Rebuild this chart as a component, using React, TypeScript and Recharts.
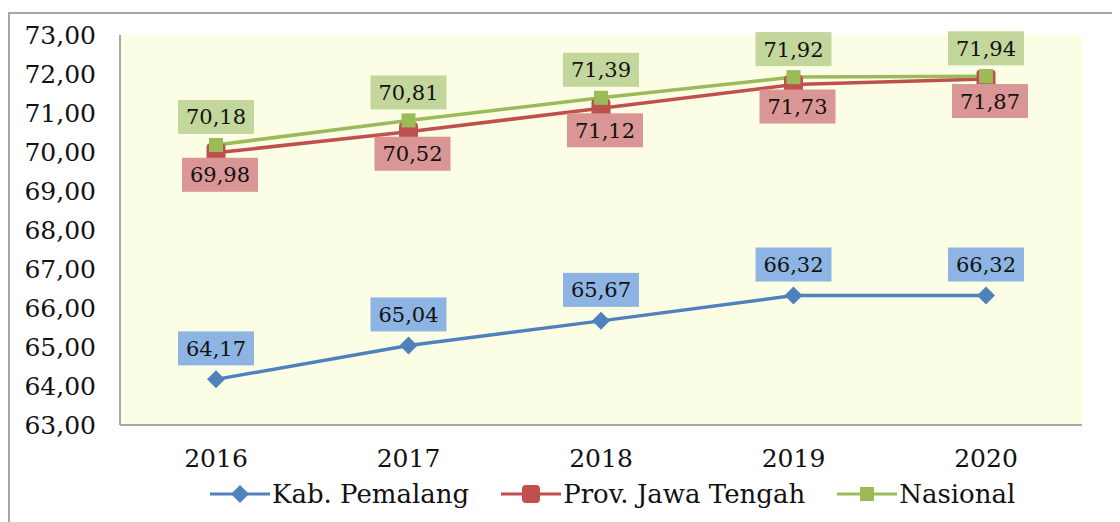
import React from "react";
import { LineChart, Line, XAxis, YAxis, CartesianGrid, LabelList } from "recharts";

const years = ["2016", "2017", "2018", "2019", "2020"];
const pemalang = [64.17, 65.04, 65.67, 66.32, 66.32];
const jateng = [69.98, 70.52, 71.12, 71.73, 71.87];
const nasional = [70.18, 70.81, 71.39, 71.92, 71.94];
const yTicks = [63, 64, 65, 66, 67, 68, 69, 70, 71, 72, 73];

const seriesNames = ["Kab. Pemalang", "Prov. Jawa Tengah", "Nasional"];
const lineColors = ["#4F81BD", "#C0504D", "#9BBB59"];
const labelFills = ["#8EB4E3", "#D99694", "#C3D69B"];

const data = years.map((y, i) => ({
  year: y,
  pemalang: pemalang[i],
  jateng: jateng[i],
  nasional: nasional[i],
}));

const FONT = "'DejaVu Serif', serif";
const fmt = (v: number) => v.toFixed(2).replace(".", ",");

const makeLabel = (fill: string, dy: number, dx: number) => (props: any) => {
  const { x, y, value } = props;
  const w = 76;
  const h = 34;
  const cx = x + dx;
  const cy = y + dy;
  return (
    <g>
      <rect x={cx - w / 2} y={cy - h / 2} width={w} height={h} fill={fill} />
      <text x={cx} y={cy + 7.5} textAnchor="middle" fontFamily={FONT} fontSize={21} fill="#111">
        {fmt(value)}
      </text>
    </g>
  );
};

const Diamond = (props: any) => {
  const { cx, cy } = props;
  const r = 9;
  return (
    <path
      d={`M${cx},${cy - r} L${cx + r},${cy} L${cx},${cy + r} L${cx - r},${cy} Z`}
      fill="#4F81BD"
    />
  );
};

const RedSquare = (props: any) => {
  const { cx, cy } = props;
  const s = 19;
  return <rect x={cx - s / 2} y={cy - s / 2} width={s} height={s} rx={4} fill="#C0504D" />;
};

const GreenSquare = (props: any) => {
  const { cx, cy } = props;
  const s = 14;
  return <rect x={cx - s / 2} y={cy - s / 2} width={s} height={s} fill="#9BBB59" />;
};

const XTick = (props: any) => {
  const { x, y, payload } = props;
  return (
    <text x={x} y={y + 42} textAnchor="middle" fontFamily={FONT} fontSize={25} fill="#111">
      {payload.value}
    </text>
  );
};

const YTick = (props: any) => {
  const { x, y, payload } = props;
  return (
    <text x={x - 24} y={y + 9} textAnchor="end" fontFamily={FONT} fontSize={25} fill="#111">
      {fmt(payload.value)}
    </text>
  );
};

const legendIcon = (i: number) => {
  const c = lineColors[i];
  return (
    <svg width={60} height={24} style={{ display: "block" }}>
      <line x1={0} y1={12} x2={60} y2={12} stroke={c} strokeWidth={3} />
      {i === 0 && <path d="M30,3 L39,12 L30,21 L21,12 Z" fill={c} />}
      {i === 1 && <rect x={21} y={3} width={18} height={18} rx={4} fill={c} />}
      {i === 2 && <rect x={23} y={5} width={14} height={14} fill={c} />}
    </svg>
  );
};

export default function App() {
  return (
    <div style={{ position: "relative", width: 1112, height: 514, overflow: "hidden" }}>
      <div
        style={{
          position: "absolute",
          left: 0,
          top: 4,
          width: 1200,
          height: 600,
          borderLeft: "2px solid #A6A6A6",
          borderTop: "2px solid #A6A6A6",
          boxSizing: "border-box",
        }}
      />
      <div style={{ position: "absolute", left: 0, top: 0 }}>
        <LineChart
          width={1112}
          height={514}
          data={data}
          margin={{ top: 27, right: 38, bottom: 37, left: 0 }}
        >
          <CartesianGrid fill="#FBFEE4" stroke="none" horizontal={false} vertical={false} />
          <XAxis
            dataKey="year"
            height={60}
            padding={{ left: 96, right: 96 }}
            tickLine={false}
            tickSize={0}
            tickMargin={0}
            stroke="#8C8C8C"
            strokeWidth={1.5}
            tick={<XTick />}
            interval={0}
          />
          <YAxis
            width={112}
            domain={[63, 73]}
            ticks={yTicks}
            tickLine={false}
            tickSize={0}
            tickMargin={0}
            stroke="#8C8C8C"
            strokeWidth={1.5}
            tick={<YTick />}
            interval={0}
          />
          <Line
            dataKey="pemalang"
            name={seriesNames[0]}
            stroke={lineColors[0]}
            strokeWidth={3.5}
            dot={<Diamond />}
            isAnimationActive={false}
          >
            <LabelList dataKey="pemalang" content={makeLabel(labelFills[0], -31, 0)} />
          </Line>
          <Line
            dataKey="jateng"
            name={seriesNames[1]}
            stroke={lineColors[1]}
            strokeWidth={3.5}
            dot={<RedSquare />}
            isAnimationActive={false}
          >
            <LabelList dataKey="jateng" content={makeLabel(labelFills[1], 22, 4)} />
          </Line>
          <Line
            dataKey="nasional"
            name={seriesNames[2]}
            stroke={lineColors[2]}
            strokeWidth={3.5}
            dot={<GreenSquare />}
            isAnimationActive={false}
          >
            <LabelList dataKey="nasional" content={makeLabel(labelFills[2], -28, 0)} />
          </Line>
        </LineChart>
      </div>
      <div
        style={{
          position: "absolute",
          left: 202,
          top: 471,
          display: "flex",
          alignItems: "center",
          fontFamily: FONT,
          fontSize: 26,
          color: "#111",
          whiteSpace: "nowrap",
        }}
      >
        {seriesNames.map((n, i) => (
          <div key={n} style={{ display: "flex", alignItems: "center", marginRight: 32 }}>
            {legendIcon(i)}
            <span style={{ marginLeft: 2 }}>{n}</span>
          </div>
        ))}
      </div>
    </div>
  );
}
